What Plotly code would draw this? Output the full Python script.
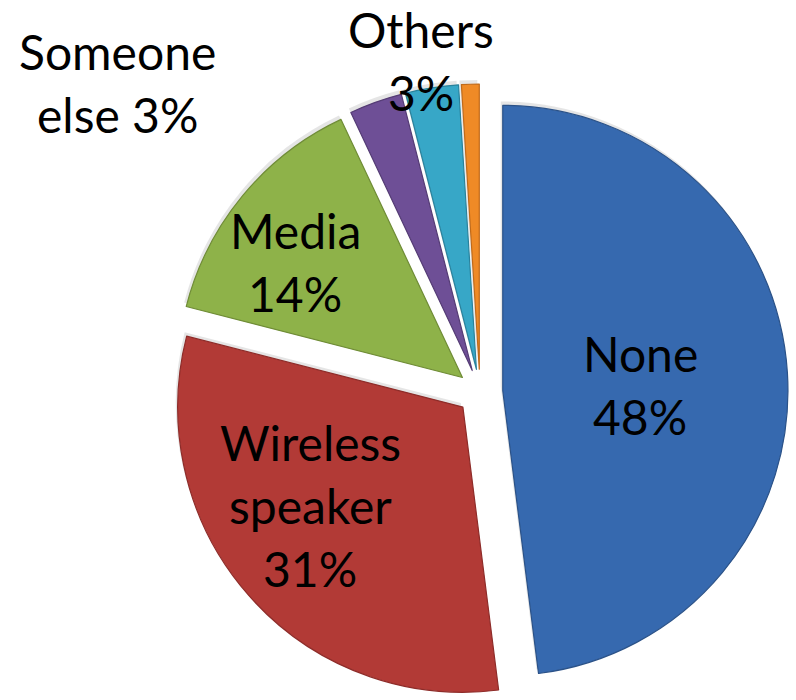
import plotly.graph_objects as go

# Who else controls the device (share of respondents, %)
categories = ["None", "Wireless speaker", "Media", "Someone else", "Others", "Not sure"]
values = [48, 31, 14, 3, 3, 1]
label_lines = [["None"], ["Wireless", "speaker"], ["Media"], ["Someone", "else"], ["Others"], None]
slice_colors = ["#3669AF", "#B23A36", "#8EB249", "#6E4F96", "#37A7C7", "#EF8A26"]
edge_colors = ["#2B5288", "#8E2C29", "#6F8C36", "#553C75", "#2A829C", "#C06A1A"]

W, H = 796, 700
FONT = "Lato"
PULL = 0.08

# pie box in pixels: centre (480, 392), half-size 308
cx_px, cy_px, half = 480, 392, 308


def box(dx=0, dy=0):
    return dict(
        x=[(cx_px - half + dx) / W, (cx_px + half + dx) / W],
        y=[1 - (cy_px + half + dy) / H, 1 - (cy_px - half + dy) / H],
    )


# soft drop shadow under each slice
shadow = go.Pie(
    labels=categories,
    values=values,
    sort=False,
    direction="clockwise",
    rotation=0,
    pull=[PULL] * len(values),
    marker=dict(colors=["rgba(0,0,0,0.10)"] * len(values), line=dict(width=0)),
    textinfo="none",
    hoverinfo="skip",
    domain=box(-2, -4),
    showlegend=False,
)

main = go.Pie(
    labels=categories,
    values=values,
    sort=False,
    direction="clockwise",
    rotation=0,
    pull=[PULL] * len(values),
    marker=dict(colors=slice_colors, line=dict(color=edge_colors, width=1.2)),
    textinfo="none",
    hoverinfo="label+percent",
    domain=box(),
    showlegend=False,
)

fig = go.Figure([shadow, main])

# label anchor points (pixels from the top-left corner) and line pitch
label_pos = [(640, 385), (310, 505), (295, 262), (117, 83), (421, 61), None]
line_gap = 63

annotations = []
for lines, val, pos in zip(label_lines, values, label_pos):
    if lines is None:
        continue
    if lines[-1] == "else":
        rows = lines[:-1] + [f"{lines[-1]} {val}%"]
    else:
        rows = lines + [f"{val}%"]
    n = len(rows)
    lx, ly = pos
    for i, row in enumerate(rows):
        y = ly + (i - (n - 1) / 2) * line_gap
        annotations.append(
            dict(
                text=row,
                x=lx / W,
                y=1 - y / H,
                xref="paper",
                yref="paper",
                xanchor="center",
                yanchor="middle",
                showarrow=False,
                font=dict(family=FONT, size=48, color="#000000"),
            )
        )

fig.update_layout(
    width=W,
    height=H,
    margin=dict(l=0, r=0, t=0, b=0),
    paper_bgcolor="white",
    plot_bgcolor="white",
    annotations=annotations,
)

fig.write_html("out.html")
